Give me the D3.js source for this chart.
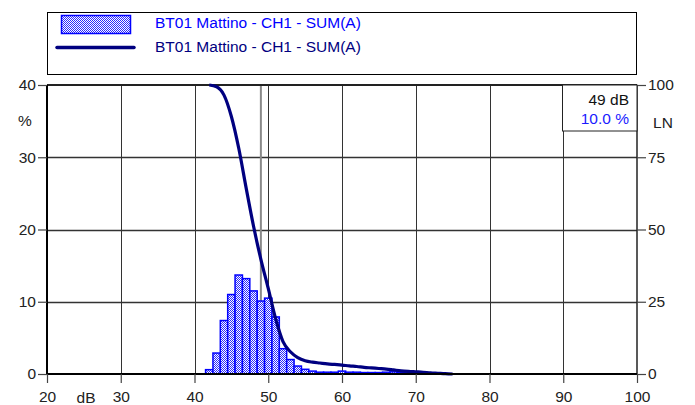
<!DOCTYPE html>
<html>
<head>
<meta charset="utf-8">
<script src="https://cdn.jsdelivr.net/npm/d3@7"></script>
<style>
html,body{margin:0;padding:0;background:#fff;}
svg{display:block;font-family:"Liberation Sans",Arial,sans-serif;}
</style>
</head>
<body>
<svg id="c" width="695" height="405"></svg>
<script>
// ---- data ----
const seriesName = "BT01 Mattino - CH1 - SUM(A)";
const binLevels = [42,43,44,45,46,47,48,49,50,51,52,53,54,55,56,57,58,59,60,61,62,63,64,65,66,67,68,69,70];
const binPercent = [0.6,2.9,7.4,11.0,13.7,13.2,11.5,10.1,10.5,7.9,3.5,2.0,1.1,0.65,0.4,0.25,0.25,0.25,0.4,0.25,0.25,0.2,0.2,0.2,0.25,0.3,0.25,0.15,0.1];
const lnLevels = [42,43,44,45,46,47,48,49,50,51,52,53,54,55,56,57,58,59,60,61,62,63,64,65,66,67,68,69,70,71,72,73,74,75];
const lnValues = [100,99.4,96.5,89.1,78.1,64.4,51.2,39.7,29.6,19.1,11.2,7.7,5.7,4.6,4.1,3.8,3.5,3.3,3.1,2.8,2.6,2.3,2.1,1.9,1.7,1.4,1.1,0.9,0.75,0.6,0.4,0.25,0.1,0];
const xTicks = [20,30,40,50,60,70,80,90,100];
const yTicks = [0,10,20,30,40];
const yRTicks = [0,25,50,75,100];
const cursorLevel = 49;
const cursorText = ["49 dB","10.0 %"];

// ---- layout ----
const L = 47, R = 637, T = 85, B = 374;
const FS = 15.5;
const svg = d3.select("#c");
const x = d3.scaleLinear().domain([20,100]).range([L,R]);
const y = d3.scaleLinear().domain([0,40]).range([B,T]);
const yR = d3.scaleLinear().domain([0,100]).range([B,T]);

const defs = svg.append("defs");
const pat = defs.append("pattern").attr("id","chk").attr("width",2).attr("height",2).attr("patternUnits","userSpaceOnUse");
pat.append("rect").attr("width",2).attr("height",2).attr("fill","#ffffff");
pat.append("rect").attr("width",1).attr("height",1).attr("fill","#2a2aff");
pat.append("rect").attr("x",1).attr("y",1).attr("width",1).attr("height",1).attr("fill","#2a2aff");

// legend
const lg = svg.append("g");
lg.append("rect").attr("x",47.5).attr("y",12.5).attr("width",589).attr("height",62).attr("fill","#fff").attr("stroke","#000").attr("stroke-width",1);
lg.append("rect").attr("x",61.5).attr("y",15.5).attr("width",69).attr("height",18).attr("fill","url(#chk)").attr("stroke","#0000ff").attr("stroke-width",1.5);
lg.append("line").attr("x1",57).attr("x2",134).attr("y1",47.5).attr("y2",47.5).attr("stroke","#000080").attr("stroke-width",3.5).attr("stroke-linecap","round");
lg.append("text").attr("x",155).attr("y",28).attr("font-size",FS).attr("fill","#0000ff").text(seriesName);
lg.append("text").attr("x",155).attr("y",52).attr("font-size",FS).attr("fill","#000080").text(seriesName);

// grid
const g = svg.append("g");
g.selectAll(".vg").data(xTicks.filter(d=>d>20&&d<100)).enter().append("line")
  .attr("x1",d=>Math.round(x(d))+0.5).attr("x2",d=>Math.round(x(d))+0.5).attr("y1",T).attr("y2",B)
  .attr("stroke","#333").attr("stroke-width",1);
g.selectAll(".hg").data(yTicks.filter(d=>d>0&&d<40)).enter().append("line")
  .attr("x1",L).attr("x2",R).attr("y1",d=>Math.round(y(d))+0.5).attr("y2",d=>Math.round(y(d))+0.5)
  .attr("stroke","#333").attr("stroke-width",1.5);

// cursor line
g.append("line").attr("x1",x(cursorLevel)).attr("x2",x(cursorLevel)).attr("y1",T).attr("y2",B)
  .attr("stroke","#8a8a8a").attr("stroke-width",2);

// bars
const bw = x(1)-x(0);
svg.append("g").selectAll("rect").data(binLevels.map((l,i)=>({l,v:binPercent[i]}))).enter().append("rect")
  .attr("x",d=>x(d.l-0.5)).attr("width",bw).attr("y",d=>y(d.v)).attr("height",d=>B-y(d.v))
  .attr("fill","url(#chk)").attr("stroke","#0000ff").attr("stroke-width",1.5);

// frame & axes
svg.append("line").attr("x1",L).attr("x2",R).attr("y1",T).attr("y2",T).attr("stroke","#222").attr("stroke-width",2);
svg.append("line").attr("x1",R).attr("x2",R).attr("y1",T).attr("y2",B).attr("stroke","#222").attr("stroke-width",1.5);
svg.append("line").attr("x1",L).attr("x2",L).attr("y1",T).attr("y2",B).attr("stroke","#000").attr("stroke-width",2);

// LN curve
const line = d3.line().x((d,i)=>x(lnLevels[i])).y(d=>yR(d)).curve(d3.curveMonotoneX);
svg.append("path").datum(lnValues).attr("d",line).attr("fill","none").attr("stroke","#000080").attr("stroke-width",3.2).attr("stroke-linejoin","round");

svg.append("line").attr("x1",L).attr("x2",R).attr("y1",B).attr("y2",B).attr("stroke","#000").attr("stroke-width",2);

// axes
const axL = svg.append("g").attr("transform",`translate(${L},0)`).call(d3.axisLeft(y).tickValues(yTicks).tickSize(9).tickPadding(2));
const axR = svg.append("g").attr("transform",`translate(${R},0)`).call(d3.axisRight(yR).tickValues(yRTicks).tickSize(9).tickPadding(2));
const axB = svg.append("g").attr("transform",`translate(0,${B})`).call(d3.axisBottom(x).tickValues(xTicks).tickSize(9).tickPadding(8));
[axL,axR,axB].forEach(a=>{
  a.select(".domain").remove();
  a.selectAll(".tick line").attr("stroke","#444").attr("stroke-width",1.2);
  a.selectAll(".tick text").attr("font-size",FS).attr("fill","#222").attr("font-family","'Liberation Sans',Arial,sans-serif");
});

// unit labels
svg.append("text").attr("x",25).attr("y",126).attr("font-size",FS).attr("fill","#222").attr("text-anchor","middle").text("%");
svg.append("text").attr("x",663).attr("y",128).attr("font-size",FS).attr("fill","#222").attr("text-anchor","middle").text("LN");
svg.append("text").attr("x",86).attr("y",403).attr("font-size",FS).attr("fill","#222").attr("text-anchor","middle").text("dB");

// cursor info box
svg.append("rect").attr("x",562.5).attr("y",85).attr("width",74.5).attr("height",46).attr("fill","#fff").attr("stroke","#222").attr("stroke-width",1);
svg.append("text").attr("x",629).attr("y",105).attr("font-size",FS).attr("fill","#111").attr("text-anchor","end").text(cursorText[0]);
svg.append("text").attr("x",629).attr("y",124).attr("font-size",FS).attr("fill","#1a1aff").attr("text-anchor","end").text(cursorText[1]);
</script>
</body>
</html>
